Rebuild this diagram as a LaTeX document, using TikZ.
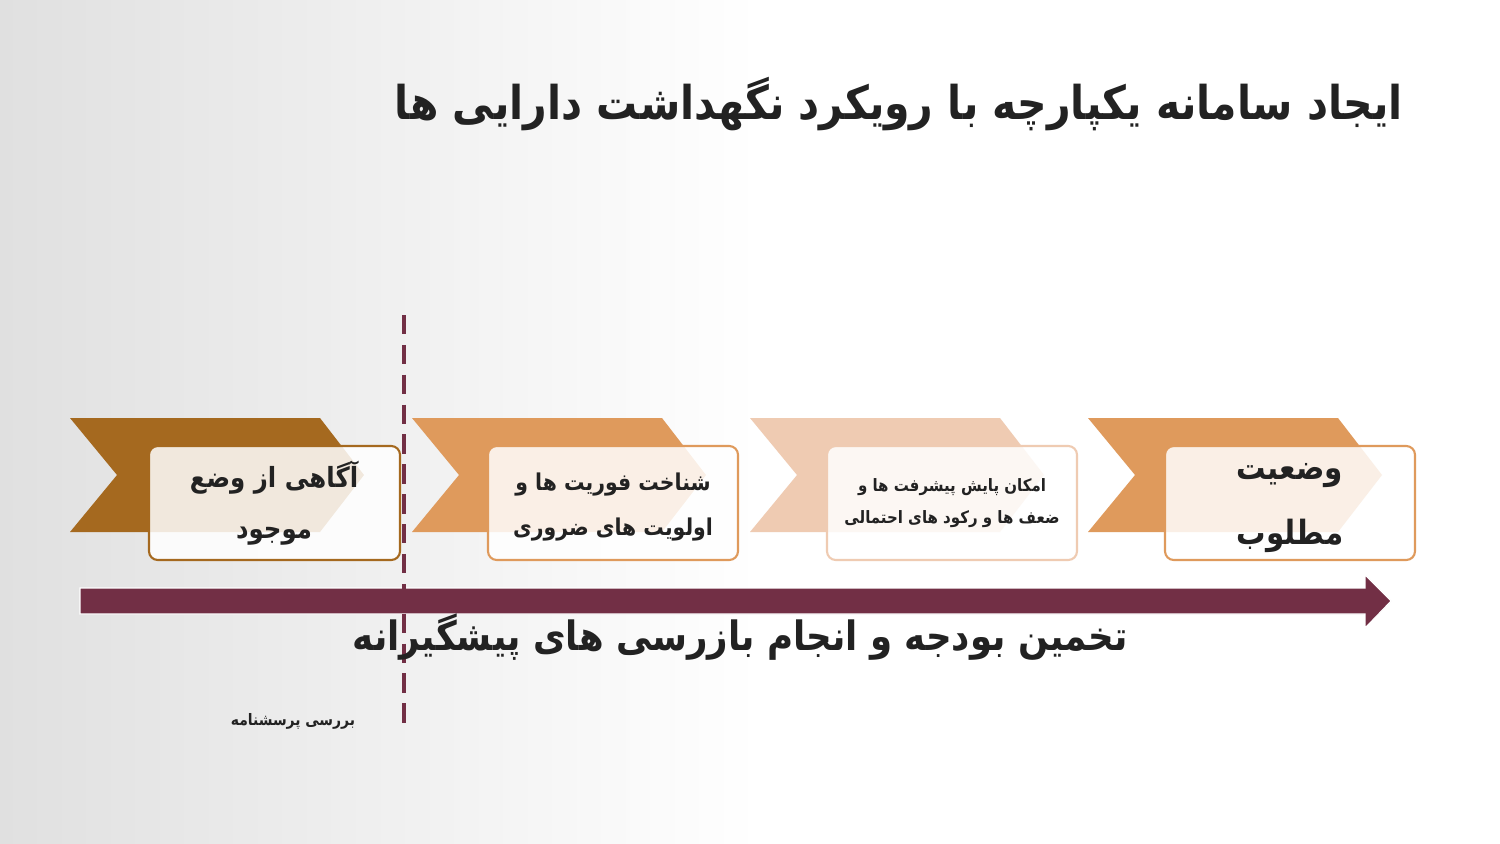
\documentclass[tikz,border=0pt]{standalone}
\usepackage{fontspec}
\TeXXeTstate=1
\newfontfamily\arabicfont[Script=Arabic,FakeStretch=0.88]{DejaVu Sans}
\definecolor{maroon}{HTML}{722F45}
\definecolor{brownA}{HTML}{A5691F}
\definecolor{orangeB}{HTML}{DF9A5C}
\definecolor{peachC}{HTML}{EFCBB2}
\definecolor{txt}{HTML}{222222}
\definecolor{bggray}{HTML}{E0E0E0}
\begin{document}
\begin{tikzpicture}[x=0.02cm,y=-0.02cm,
  tbox/.style={rounded corners=5pt,line width=1.2pt,fill=white,fill opacity=0.85,text opacity=1},
  lbl/.style={font=\arabicfont\bfseries,text=txt,align=center,inner sep=0pt},
  dline/.style={draw=maroon,line width=2.3pt,dash pattern=on 11pt off 6pt}]
\useasboundingbox (0,0) rectangle (1500,843);
% background
\fill[white] (0,0) rectangle (1500,843);
\shade[left color=bggray,right color=white] (0,0) rectangle (760,843);
% chevrons
\foreach \xo/\col in {70/brownA,412/orangeB,750/peachC,1088/orangeB}{
  \fill[\col] (\xo,418) -- ++(250,0) -- ++(44,57) -- ++(-44,57) -- ++(-250,0) -- ++(47,-57) -- cycle;
}
% boxes
\draw[tbox,draw=brownA] (149,446) rectangle (400,560);
\draw[tbox,draw=orangeB] (488,446) rectangle (738,560);
\draw[tbox,draw=peachC] (827,446) rectangle (1077,560);
\draw[tbox,draw=orangeB] (1165,446) rectangle (1415,560);
% box labels
\node[lbl,font=\arabicfont\bfseries\fontsize{15.8}{29}\selectfont] (b1) at (274,503) {\beginR آگاهی از وضع\endR\\\beginR موجود\endR};
\node[lbl,font=\arabicfont\bfseries\fontsize{13.2}{26}\selectfont] (b2) at (613,507) {\beginR شناخت فوریت ها و\endR\\\beginR اولویت های ضروری\endR};
\node[lbl,font=\arabicfont\bfseries\fontsize{9.7}{18}\selectfont] (b3) at (952,503) {\beginR امکان پایش پیشرفت ها و\endR\\\beginR ضعف ها و رکود های احتمالی\endR};
\node[lbl,font=\arabicfont\bfseries\fontsize{19}{37}\selectfont] (b4) at (1290,508) {\beginR وضعیت\endR\\\beginR مطلوب\endR};
% timeline arrow
\fill[maroon,draw=white,line width=0.6pt] (80,588) -- (1365,588) -- (1365,575) -- (1391,601) -- (1365,628) -- (1365,614) -- (80,614) -- cycle;
% dashed divider
\coordinate (dtop) at (404,315);
\coordinate (dbot) at (404,728);
\draw[dline] (dtop) -- (dbot);
% texts
\node[lbl,anchor=east,font=\arabicfont\bfseries\fontsize{26.5}{30}\selectfont] (title) at (1403,104) {\beginR ایجاد سامانه یکپارچه با رویکرد نگهداشت دارایی ها\endR};
\node[lbl,font=\arabicfont\bfseries\fontsize{23}{26}\selectfont] (budget) at (740,637) {\beginR تخمین بودجه و انجام بازرسی های پیشگیرانه\endR};
\node[lbl,font=\arabicfont\bfseries\fontsize{9}{12}\selectfont] (quest) at (293,721) {\beginR بررسی پرسشنامه\endR};
\end{tikzpicture}
\end{document}
